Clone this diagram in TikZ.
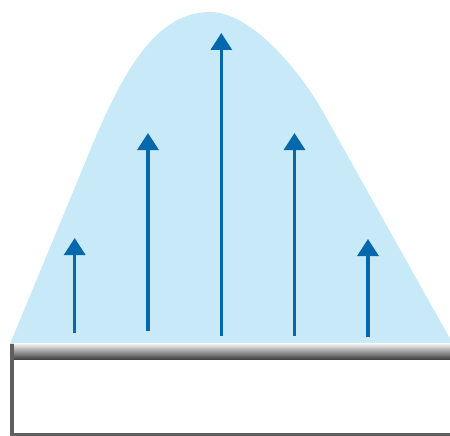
\documentclass[tikz,border=0pt]{standalone}
\usetikzlibrary{arrows.meta}
\definecolor{bellfill}{HTML}{C7E9F8}
\definecolor{arrowblue}{HTML}{0568AC}
\definecolor{frameg}{HTML}{5F5F5F}
\tikzset{
  uparrow/.style={draw=arrowblue, line width=3.3pt, -{Triangle[width=21pt,length=17pt]}},
  framebar/.style={fill=frameg, draw=none}
}
\begin{document}
\begin{tikzpicture}[x=1pt,y=-1pt]
\useasboundingbox (0,0) rectangle (450,436);
% bell shape
\fill[bellfill] (10,344) -- (80,175) .. controls (116,85) and (150,12) .. (210,12)
  .. controls (255,12) and (305,80) .. (322,110) -- (453,344) -- cycle;
% arrows
\coordinate (a1s) at (74.7,333); \coordinate (a1e) at (74.7,238);
\coordinate (a2s) at (148,331); \coordinate (a2e) at (148,133);
\coordinate (a3s) at (221.3,336); \coordinate (a3e) at (221.3,33);
\coordinate (a4s) at (294.5,336); \coordinate (a4e) at (294.5,133);
\coordinate (a5s) at (368,337); \coordinate (a5e) at (368,239);
\draw[uparrow] (a1s) -- (a1e);
\draw[uparrow] (a2s) -- (a2e);
\draw[uparrow] (a3s) -- (a3e);
\draw[uparrow] (a4s) -- (a4e);
\draw[uparrow] (a5s) -- (a5e);
% gradient bar
\shade[top color=gray!8, bottom color=black!78] (14,343.5) rectangle (450,360);
% frame
\fill[white] (14,360) rectangle (450,433);
\fill[framebar] (10,343.5) rectangle (14,436);
\fill[framebar] (10,433) rectangle (450,436);
\end{tikzpicture}
\end{document}
